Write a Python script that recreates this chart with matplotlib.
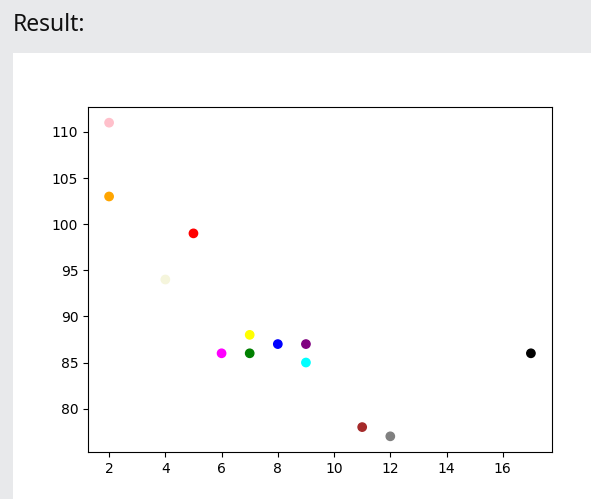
import matplotlib
matplotlib.use("Agg")
import matplotlib.pyplot as plt
from matplotlib.patches import Rectangle

x = [5, 7, 8, 7, 2, 17, 2, 9, 4, 11, 12, 9, 6]
y = [99, 86, 87, 88, 111, 86, 103, 87, 94, 78, 77, 85, 86]
colors = ["red", "green", "blue", "yellow", "pink", "black", "orange",
          "purple", "beige", "brown", "gray", "cyan", "magenta"]

W, H = 591, 499
fig = plt.figure(figsize=(W / 100, H / 100), dpi=100)
fig.patch.set_facecolor("#e8e9eb")

# white panel
fig.patches.append(Rectangle((13 / W, 0), 1 - 13 / W, 1 - 53 / H,
                             transform=fig.transFigure, facecolor="white",
                             edgecolor="none", zorder=-5))
fig.text(13 / W, 1 - 31 / H, "Result:", fontsize=16.5, family="Noto Sans",
         color="#111111", va="baseline", ha="left")

ax = fig.add_axes([88 / W, 1 - 452 / H, (552 - 88) / W, (452 - 107) / H])
ax.set_zorder(2)
ax.scatter(x, y, c=colors)

fig.savefig("out.png", dpi=100, facecolor=fig.get_facecolor())
